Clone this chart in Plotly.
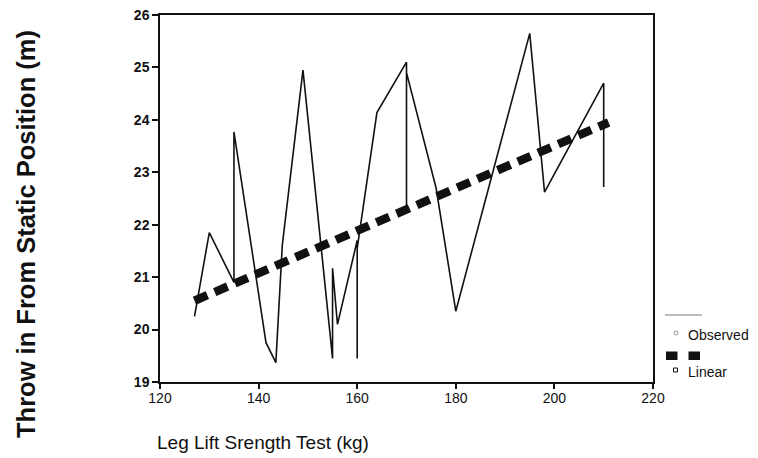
import plotly.graph_objects as go

# ---- data ----
obs_x = [127, 130, 135, 135, 141.5, 143.5, 144.8, 149, 155, 155, 156, 160, 160, 160,
         164, 170, 170, 170, 176, 180, 195, 198, 210, 210]
obs_y = [20.25, 21.85, 20.9, 23.77, 19.75, 19.37, 21.6, 24.95, 19.45, 21.17, 20.1, 21.7,
         19.45, 21.55, 24.14, 25.1, 22.34, 24.9, 22.7, 20.35, 25.65, 22.62, 24.7, 22.72]
lin_x = [127, 211]
lin_y = [20.55, 23.95]

x_ticks = [120, 140, 160, 180, 200, 220]
y_ticks = [19, 20, 21, 22, 23, 24, 25, 26]

x_title = "Leg Lift Srength Test (kg)"
y_title = "Throw in From Static Position (m)"
legend_names = ["Observed", "Linear"]

# ---- layout geometry (pixels) ----
# the page body has an 8px margin, so the figure starts 8px in from the window corner
OFF = 8
W, H = 758 - 2 * OFF, 458 - OFF
L, T = 160 - OFF, 15 - OFF
R = W - L - 493
B = H - T - 367
PW, PH = W - L - R, H - T - B
FONT = "Liberation Sans, Arial, sans-serif"


def px(xp):
    """window x pixel -> paper x"""
    return (xp - OFF - L) / PW


def py(yp):
    """window y pixel -> paper y"""
    return (H - B - (yp - OFF)) / PH


fig = go.Figure()
fig.add_trace(go.Scatter(x=obs_x, y=obs_y, mode="lines", name=legend_names[0],
                         line=dict(color="#111111", width=1.6), showlegend=False))
fig.add_trace(go.Scatter(x=lin_x, y=lin_y, mode="lines", name=legend_names[1],
                         line=dict(color="#111111", width=8.5, dash="14px,8px"),
                         showlegend=False))

axis_common = dict(showgrid=False, zeroline=False, showline=True, linecolor="#111111",
                   linewidth=1.5, mirror=True, ticks="outside", tickcolor="#111111",
                   tickwidth=1.5, ticklabeloverflow="allow")

fig.update_xaxes(range=[120, 220], tickvals=x_ticks, ticklen=5, ticklabelstandoff=-3,
                 tickfont=dict(family=FONT, size=14, color="#111111"), **axis_common)
fig.update_yaxes(range=[19, 26], tickvals=y_ticks, ticklen=6,
                 tickfont=dict(family=FONT, size=14, color="#111111", weight="bold"),
                 **axis_common)

shapes = [
    # legend: observed thin line sample
    dict(type="line", xref="paper", yref="paper", x0=px(665), x1=px(702), y0=py(315), y1=py(315),
         line=dict(color="#777777", width=1)),
    dict(type="circle", xref="paper", yref="paper", x0=px(674), x1=px(678), y0=py(331), y1=py(335),
         line=dict(color="#999999", width=1)),
    # legend: linear thick dashes
    dict(type="rect", xref="paper", yref="paper", x0=px(666), x1=px(677.5), y0=py(351.5), y1=py(360),
         fillcolor="#111111", line=dict(width=0)),
    dict(type="rect", xref="paper", yref="paper", x0=px(688.5), x1=px(700), y0=py(351.5), y1=py(360),
         fillcolor="#111111", line=dict(width=0)),
    dict(type="rect", xref="paper", yref="paper", x0=px(673.5), x1=px(677.5), y0=py(368), y1=py(372),
         line=dict(color="#111111", width=1)),
]

annotations = [
    dict(text=legend_names[0], xref="paper", yref="paper", x=px(686), y=py(335),
         xanchor="left", yanchor="middle", showarrow=False,
         font=dict(family=FONT, size=14, color="#111111")),
    dict(text=legend_names[1], xref="paper", yref="paper", x=px(686), y=py(372),
         xanchor="left", yanchor="middle", showarrow=False,
         font=dict(family=FONT, size=14, color="#111111")),
    dict(text=x_title, xref="paper", yref="paper", x=px(263), y=py(442),
         xanchor="center", yanchor="middle", showarrow=False,
         font=dict(family=FONT, size=19, color="#111111")),
    dict(text="<b>" + y_title + "</b>", xref="paper", yref="paper", x=px(26), y=py(234),
         xanchor="center", yanchor="middle", showarrow=False, textangle=-90,
         font=dict(family=FONT, size=25.5, color="#111111")),
]

fig.update_layout(width=W, height=H, margin=dict(l=L, r=R, t=T, b=B, autoexpand=False),
                  paper_bgcolor="white", plot_bgcolor="white",
                  shapes=shapes, annotations=annotations, showlegend=False)

fig.write_html("out.html")
